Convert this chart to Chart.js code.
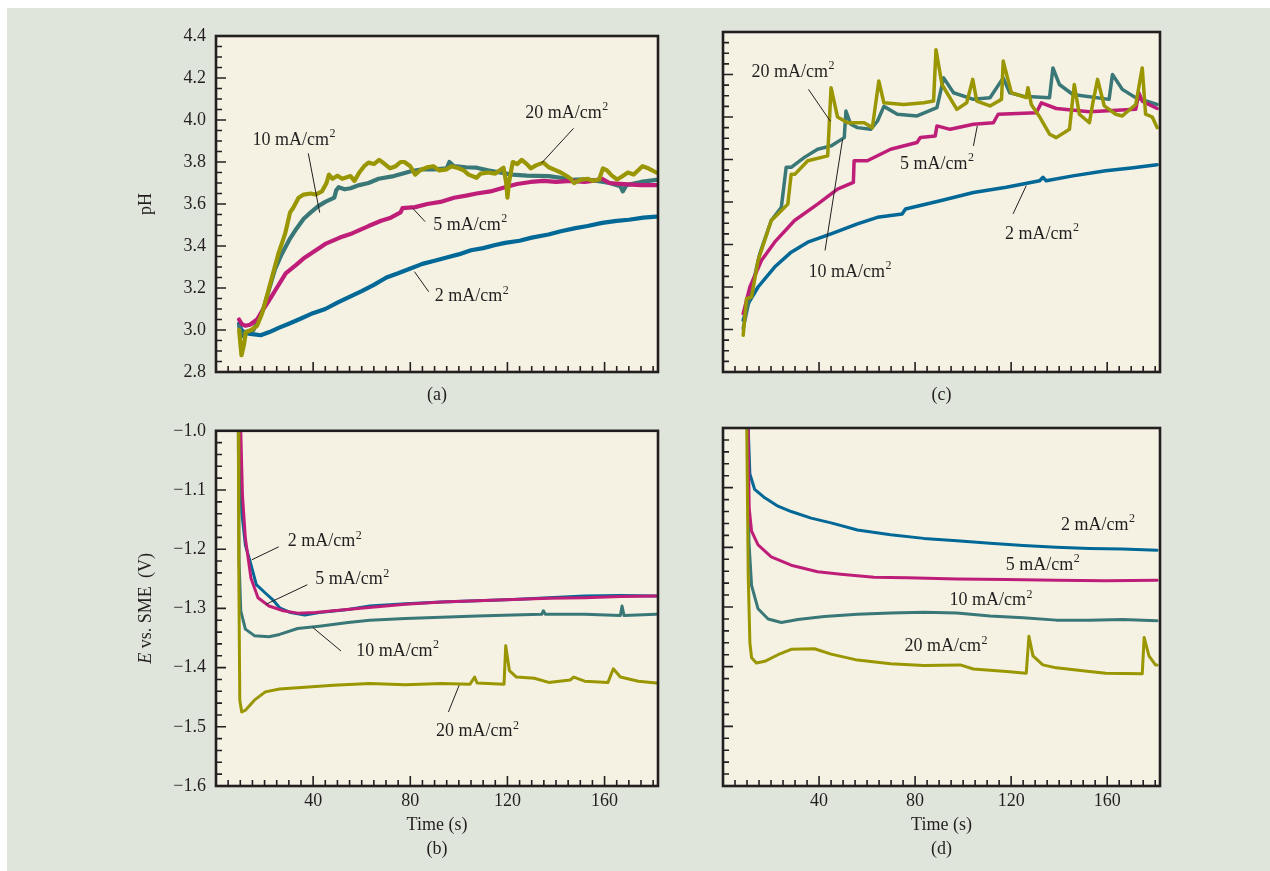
<!DOCTYPE html>
<html><head><meta charset="utf-8">
<script src="https://cdn.jsdelivr.net/npm/chart.js@4.4.1/dist/chart.umd.min.js"></script>
<style>
html,body{margin:0;padding:0;background:#fff;width:1270px;height:871px;overflow:hidden;}
#bg{position:absolute;left:7px;top:8px;width:1263px;height:863px;background:#e0e5dc;}
canvas{position:absolute;}
</style></head><body>
<div id="bg"></div>
<canvas id="ca" width="690" height="410" style="left:0;top:0"></canvas>
<canvas id="cb" width="690" height="461" style="left:0;top:410px"></canvas>
<canvas id="cc" width="580" height="410" style="left:690px;top:0"></canvas>
<canvas id="cd" width="580" height="461" style="left:690px;top:410px"></canvas>
<script>
// ---------- tick values / labels ----------
const timeTickValues = [40, 80, 120, 160];
const timeTickLabels = ['40', '80', '120', '160'];
const phTickValues = [2.8, 3.0, 3.2, 3.4, 3.6, 3.8, 4.0, 4.2, 4.4];
const phTickLabels = ['2.8', '3.0', '3.2', '3.4', '3.6', '3.8', '4.0', '4.2', '4.4'];
const eTickValues = [-1.6, -1.5, -1.4, -1.3, -1.2, -1.1, -1.0];
const eTickLabels = ['\u22121.6', '\u22121.5', '\u22121.4', '\u22121.3', '\u22121.2', '\u22121.1', '\u22121.0'];
const seriesLabels = ['2 mA/cm\u00b2', '5 mA/cm\u00b2', '10 mA/cm\u00b2', '20 mA/cm\u00b2'];

// ---------- (a) pH, panel a : [time s, pH] ----------
const phA_2 = [[9.5,3.03],[10.5,3.0],[12,2.985],[15,2.98],[18.4,2.975],[22,2.99],[25.8,3.01],[30,3.03],[35,3.055],[39.9,3.08],[45,3.1],[50,3.13],[55.4,3.16],[60,3.185],[65,3.215],[70.2,3.25],[75,3.27],[80.6,3.295],[85,3.315],[90,3.33],[95,3.345],[99.9,3.36],[105,3.38],[110,3.39],[115,3.405],[119,3.415],[125,3.425],[130,3.44],[136.9,3.455],[142,3.47],[148,3.485],[153,3.495],[159,3.51],[165,3.52],[170,3.525],[176,3.535],[181.3,3.54]];
const phA_5 = [[9.5,3.05],[10.5,3.03],[12,3.02],[14,3.025],[16.9,3.05],[19,3.09],[21.3,3.13],[25,3.2],[28.7,3.27],[33,3.31],[36,3.34],[39.9,3.37],[45,3.41],[51,3.44],[56,3.46],[62.8,3.495],[68,3.52],[72,3.535],[76,3.56],[76.8,3.58],[82,3.585],[87,3.6],[92.4,3.61],[98,3.63],[103,3.64],[107.3,3.65],[113,3.66],[119,3.68],[124,3.695],[129.5,3.705],[135,3.71],[140,3.705],[146,3.71],[151.7,3.705],[155,3.71],[159,3.72],[162,3.7],[168,3.695],[175,3.69],[181.3,3.69]];
const phA_10 = [[9.5,3.02],[10.5,2.97],[12,2.99],[15.4,3.0],[18,3.06],[19.8,3.11],[22,3.2],[24.3,3.29],[27,3.36],[30.2,3.43],[33,3.48],[36.1,3.53],[39,3.56],[42.1,3.59],[45,3.61],[48.7,3.63],[49.5,3.665],[50.5,3.68],[53,3.67],[55.4,3.675],[59,3.69],[62.8,3.7],[67,3.72],[73.2,3.733],[77,3.745],[80.6,3.757],[85,3.765],[90,3.765],[95,3.77],[96.1,3.8],[98,3.78],[103,3.775],[107.3,3.773],[112,3.76],[117,3.75],[122,3.74],[128,3.735],[136.9,3.733],[142,3.725],[146,3.715],[151.7,3.717],[157,3.71],[162,3.7],[166.5,3.685],[167.5,3.66],[169,3.69],[175,3.705],[181.3,3.715]];
const phA_20 = [[9.5,3.0],[10.5,2.88],[11.5,2.93],[12.3,2.99],[14.5,3.0],[16.9,3.02],[19,3.08],[21.3,3.176],[23.5,3.27],[25.8,3.367],[28.5,3.46],[30.5,3.56],[31.7,3.58],[34,3.63],[36.1,3.645],[39,3.65],[41,3.645],[43.6,3.66],[45.5,3.7],[46.5,3.74],[48,3.72],[50,3.735],[52,3.72],[55.4,3.733],[57,3.71],[59,3.75],[61,3.78],[62.8,3.797],[65,3.79],[67.2,3.81],[69,3.795],[71.7,3.77],[74,3.78],[76,3.8],[77.6,3.8],[80,3.78],[82,3.74],[84,3.76],[87,3.775],[89.5,3.78],[92,3.76],[95,3.765],[97,3.78],[99.9,3.77],[102,3.76],[104,3.74],[107.3,3.725],[109,3.745],[112,3.75],[115,3.745],[118.4,3.773],[119.5,3.7],[120,3.63],[120.6,3.7],[122.2,3.8],[124,3.79],[125.9,3.81],[128,3.79],[129.6,3.77],[132,3.785],[134.8,3.797],[137,3.775],[140,3.76],[142,3.75],[144.4,3.733],[146,3.72],[147.4,3.7],[150,3.715],[153,3.72],[155,3.71],[157.8,3.717],[159.3,3.77],[161,3.76],[163,3.735],[165.2,3.717],[167,3.73],[169.6,3.75],[172,3.74],[175.6,3.78],[178,3.77],[181.3,3.75]];

// ---------- (c) pH, panel c ----------
const phC_2 = [[8.4,3.044],[10.5,3.122],[14.6,3.2],[21.5,3.294],[28.4,3.364],[35.3,3.411],[45,3.45],[56,3.497],[64.3,3.528],[74.6,3.544],[76,3.567],[90.5,3.606],[104.3,3.645],[118,3.669],[131.9,3.7],[133.2,3.716],[134.6,3.7],[145.7,3.723],[159.4,3.747],[170,3.76],[180.8,3.775]];
const phC_5 = [[8.4,3.075],[11.2,3.2],[16,3.325],[21.5,3.411],[29.8,3.513],[39.4,3.59],[47.7,3.661],[54.3,3.692],[54.6,3.794],[60.1,3.794],[69.8,3.848],[80.8,3.88],[82.2,3.903],[88.4,3.911],[89.1,3.958],[94.6,3.942],[104.3,3.966],[112.6,3.973],[114.6,4.013],[130.5,4.02],[132.6,4.067],[138.8,4.04],[152.6,4.025],[171.9,4.036],[173.2,4.114],[174.6,4.075],[180.8,4.04]];
const phC_10 = [[8.4,3.005],[11.2,3.153],[15.3,3.356],[20.1,3.513],[24.3,3.575],[26.3,3.763],[28.4,3.763],[33.9,3.81],[39.4,3.848],[45,3.864],[50.5,3.903],[51.2,4.028],[53.2,3.966],[56,3.95],[61.5,3.942],[64.3,3.98],[67,4.05],[72.6,4.013],[80.8,4.005],[89.1,4.044],[91.9,4.184],[96,4.114],[104.3,4.083],[111.2,4.091],[116.7,4.184],[119.4,4.114],[125,4.098],[136,4.091],[137.4,4.231],[140.1,4.153],[145.7,4.106],[160.8,4.083],[162.2,4.2],[166.3,4.13],[171.9,4.091],[180.8,4.059]];
const phC_20 = [[8.4,2.973],[9.8,3.145],[11.9,3.153],[14.6,3.325],[20.1,3.513],[22.9,3.544],[27,3.59],[28.4,3.731],[30,3.731],[35.3,3.794],[43.6,3.817],[45,4.138],[47.7,4.0],[51.9,3.973],[58.8,3.973],[62.2,3.95],[64.9,4.169],[67,4.067],[75.3,4.059],[83.6,4.067],[87.7,4.075],[88.7,4.317],[91.2,4.153],[97.4,4.036],[101.5,4.067],[104,4.177],[105.7,4.075],[111.2,4.052],[116,4.083],[116.7,4.263],[120.1,4.114],[126.3,4.091],[127,4.138],[128.4,4.059],[131.9,4.0],[136,3.919],[138.8,3.903],[144.3,3.942],[146.3,4.153],[148.4,4.013],[152.6,3.973],[153.9,4.059],[156,4.177],[158.8,4.052],[163.6,4.013],[166.3,4.005],[171.9,4.059],[174.6,4.231],[176,4.013],[178.8,4.0],[180.8,3.95]];

// ---------- (b) potential, panel b : [time s, E V] ----------
const eB_2 = [[9.8,-1.0],[10.6,-1.137],[12.1,-1.193],[14.4,-1.226],[16.6,-1.26],[20.3,-1.274],[23.3,-1.285],[26.2,-1.299],[30.7,-1.307],[36.6,-1.311],[42.5,-1.307],[54.4,-1.302],[63.3,-1.296],[78,-1.292],[92.8,-1.289],[107.5,-1.287],[122.3,-1.285],[137,-1.282],[151.8,-1.279],[166.5,-1.278],[181.3,-1.279]];
const eB_5 = [[10.2,-1.0],[10.9,-1.109],[12.1,-1.182],[14.4,-1.249],[17.3,-1.282],[21.8,-1.296],[27.7,-1.304],[33.6,-1.308],[41,-1.307],[48.4,-1.304],[61.8,-1.299],[78,-1.293],[92.8,-1.289],[107.5,-1.287],[122.3,-1.285],[137,-1.283],[151.8,-1.282],[166.5,-1.28],[181.3,-1.279]];
const eB_10 = [[9.2,-1.0],[9.5,-1.221],[10.2,-1.304],[12.1,-1.335],[15.8,-1.346],[21.8,-1.348],[26.2,-1.344],[33.6,-1.334],[42.5,-1.33],[54.4,-1.324],[63.3,-1.32],[78,-1.317],[92.8,-1.315],[107.5,-1.313],[122.3,-1.311],[134.1,-1.31],[134.8,-1.304],[135.6,-1.31],[151.8,-1.31],[166.5,-1.312],[167.2,-1.296],[168,-1.312],[181.3,-1.31]];
const eB_20 = [[9.2,-1.0],[9.4,-1.249],[9.8,-1.455],[10.6,-1.475],[12.1,-1.472],[15.8,-1.455],[20.3,-1.441],[26.2,-1.436],[33.6,-1.434],[48.4,-1.43],[63.3,-1.427],[78,-1.429],[92.8,-1.427],[104.6,-1.428],[106.5,-1.416],[107.5,-1.426],[118.6,-1.428],[119.3,-1.363],[120.8,-1.405],[123.7,-1.416],[131.1,-1.418],[137,-1.425],[145.8,-1.421],[147.3,-1.416],[151.8,-1.423],[161.4,-1.425],[163.6,-1.402],[166.5,-1.416],[173.9,-1.423],[181.3,-1.426]];

// ---------- (d) potential, panel d ----------
const eD_2 = [[10.5,-1.0],[11.2,-1.077],[13.2,-1.103],[17.4,-1.117],[22.9,-1.131],[28.4,-1.14],[36.7,-1.151],[45,-1.159],[56,-1.171],[69.8,-1.179],[83.6,-1.185],[97.4,-1.189],[111.2,-1.193],[125,-1.197],[138.8,-1.2],[152.6,-1.202],[166.3,-1.203],[180.8,-1.205]];
const eD_5 = [[10.5,-1.0],[10.9,-1.134],[11.9,-1.173],[14.6,-1.196],[20.1,-1.216],[28.4,-1.23],[39.4,-1.241],[49.1,-1.245],[62.9,-1.25],[76.7,-1.251],[97.4,-1.253],[118.1,-1.254],[138.8,-1.255],[159.4,-1.256],[180.8,-1.255]];
const eD_10 = [[10.2,-1.0],[10.8,-1.19],[11.9,-1.264],[14.6,-1.303],[18.8,-1.32],[24.3,-1.326],[31.2,-1.321],[42.2,-1.316],[56,-1.312],[69.8,-1.31],[83.6,-1.309],[97.4,-1.31],[111.2,-1.315],[125,-1.318],[138.8,-1.322],[152.6,-1.322],[166.3,-1.321],[180.8,-1.323]];
const eD_20 = [[9.9,-1.0],[10.5,-1.247],[11.2,-1.36],[11.9,-1.385],[13.9,-1.394],[17.4,-1.391],[22.9,-1.38],[28.4,-1.371],[38.1,-1.37],[45,-1.379],[56,-1.389],[69.8,-1.395],[83.6,-1.398],[98.8,-1.397],[104.3,-1.404],[118.1,-1.408],[126.3,-1.411],[127.4,-1.349],[129.1,-1.382],[133.2,-1.397],[138.8,-1.402],[152.6,-1.408],[159.4,-1.411],[174.6,-1.412],[175.4,-1.351],[177.4,-1.382],[180.1,-1.397],[180.8,-1.397]];

// ---------- styling / layout ----------
const COLORS = ['#006896', '#be1e78', '#3a7878', '#9a9600'];
const ORDER = [3, 1, 2, 0];
const INK = '#231f20';
const SERIF = '"Liberation Serif", "Times New Roman", serif';

const panels = {
  ca: { left: 0, top: 0, w: 690, h: 410, area: {l: 216, t: 36, r: 658, b: 372}, lw: 4.2,
        data: [phA_2, phA_5, phA_10, phA_20], yKind: 'ph', yLabels: true, xLabels: false,
        yTitle: 'pH', tag: '(a)', tagDy: 23,
        notes: [
          {t: 'N', main: '10 mA/cm', x: 15.0, y: 3.905, line: [38.0, 3.841, 42.7, 3.559]},
          {main: '20 mA/cm', x: 127.3, y: 4.033, line: [147.2, 3.96, 134.0, 3.794]},
          {main: '5 mA/cm', x: 89.5, y: 3.5, line: [86.1, 3.516, 81.0, 3.58]},
          {main: '2 mA/cm', x: 90.1, y: 3.159, line: [87.6, 3.182, 81.7, 3.278]}
        ]},
  cb: { left: 0, top: 410, w: 690, h: 461, area: {l: 216, t: 428, r: 658, b: 786}, lw: 3,
        data: [eB_2, eB_5, eB_10, eB_20], yKind: 'e', yLabels: true, xLabels: true,
        yTitle: 'E', tag: '(b)', tagDy: 63, xTitle: true,
        notes: [
          {main: '2 mA/cm', x: 29.5, y: -1.187, line: [25.8, -1.196, 14.7, -1.218]},
          {main: '5 mA/cm', x: 40.9, y: -1.251, line: [37.6, -1.26, 20.6, -1.293]},
          {main: '10 mA/cm', x: 57.7, y: -1.372, line: [51.5, -1.372, 39.8, -1.332]},
          {main: '20 mA/cm', x: 90.6, y: -1.508, line: [95.7, -1.475, 100.1, -1.43]}
        ]},
  cc: { left: 690, top: 0, w: 580, h: 410, area: {l: 723, t: 32, r: 1160, b: 372}, lw: 3.5,
        data: [phC_2, phC_5, phC_10, phC_20], yKind: 'ph', yLabels: false, xLabels: false,
        tag: '(c)', tagDy: 23,
        notes: [
          {main: '20 mA/cm', x: 11.9, y: 4.2125, line: [35.6, 4.13, 44.7, 3.98]},
          {main: '10 mA/cm', x: 35.6, y: 3.27, line: [42.5, 3.372, 49.8, 3.895]},
          {main: '5 mA/cm', x: 73.7, y: 3.778, line: [104.3, 3.864, 105.9, 3.958]},
          {main: '2 mA/cm', x: 117.4, y: 3.45, line: [120.8, 3.544, 126.3, 3.677]}
        ]},
  cd: { left: 690, top: 410, w: 580, h: 461, area: {l: 723, t: 428, r: 1160, b: 786}, lw: 3,
        data: [eD_2, eD_5, eD_10, eD_20], yKind: 'e', yLabels: false, xLabels: true,
        tag: '(d)', tagDy: 63, xTitle: true,
        notes: [
          {main: '2 mA/cm', x: 140.8, y: -1.163},
          {main: '5 mA/cm', x: 117.8, y: -1.23},
          {main: '10 mA/cm', x: 94.3, y: -1.289},
          {main: '20 mA/cm', x: 75.6, y: -1.366}
        ]}
};

const decoPlugin = {
  id: 'deco',
  beforeDraw(chart) {
    const {ctx, chartArea: a} = chart;
    ctx.save();
    ctx.fillStyle = '#f5f2e4';
    ctx.fillRect(a.left, a.top, a.right - a.left, a.bottom - a.top);
    ctx.restore();
  },
  afterDatasetsDraw(chart) {
    const p = panels[chart.canvas.id];
    const {ctx, chartArea: a, scales: {x, y}} = chart;
    ctx.save();
    // ticks (inward)
    ctx.strokeStyle = INK; ctx.lineWidth = 1.6; ctx.beginPath();
    for (let k = 1; k * 5 < 182; k++) {
      const v = k * 5, major = v % 40 === 0;
      const px = x.getPixelForValue(v);
      ctx.moveTo(px, a.bottom); ctx.lineTo(px, a.bottom - (major ? 10 : 6));
    }
    const ymin = y.min, step = p.yKind === 'ph' ? 0.05 : 0.02, every = p.yKind === 'ph' ? 4 : 5;
    const n = Math.round((y.max - y.min) / step);
    for (let k = 1; k < n; k++) {
      const py = y.getPixelForValue(ymin + k * step);
      ctx.moveTo(a.left, py); ctx.lineTo(a.left + (k % every === 0 ? 10 : 6), py);
    }
    ctx.stroke();
    // frame
    ctx.lineWidth = 2.6;
    ctx.strokeRect(a.left, a.top, a.right - a.left, a.bottom - a.top);
    // annotations
    ctx.fillStyle = INK; ctx.textBaseline = 'middle'; ctx.textAlign = 'left';
    p.notes.forEach(nt => {
      const tx = x.getPixelForValue(nt.x), ty = y.getPixelForValue(nt.y);
      ctx.font = '18px ' + SERIF;
      ctx.fillText(nt.main, tx, ty);
      const w = ctx.measureText(nt.main).width;
      ctx.font = '12px ' + SERIF;
      ctx.fillText('2', tx + w + 0.5, ty - 6);
      if (nt.line) {
        ctx.lineWidth = 1; ctx.beginPath();
        ctx.moveTo(x.getPixelForValue(nt.line[0]), y.getPixelForValue(nt.line[1]));
        ctx.lineTo(x.getPixelForValue(nt.line[2]), y.getPixelForValue(nt.line[3]));
        ctx.stroke();
      }
    });
    // titles
    const cx = (a.left + a.right) / 2, cy = (a.top + a.bottom) / 2;
    ctx.textAlign = 'center';
    ctx.font = '18px ' + SERIF;
    ctx.fillText(p.tag, cx, a.bottom + p.tagDy);
    if (p.xTitle) ctx.fillText('Time (s)', cx, a.bottom + 39);
    if (p.yTitle) {
      ctx.save();
      ctx.translate(a.left - 70, cy);
      ctx.rotate(-Math.PI / 2);
      if (p.yTitle === 'pH') {
        ctx.fillText('pH', 0, 0);
      } else {
        ctx.font = 'italic 18px ' + SERIF;
        const wE = ctx.measureText('E').width;
        ctx.font = '18px ' + SERIF;
        const rest = ' vs. SME \u2009(V)';
        const wR = ctx.measureText(rest).width;
        const x0 = -(wE + wR) / 2;
        ctx.textAlign = 'left';
        ctx.font = 'italic 18px ' + SERIF;
        ctx.fillText('E', x0, 0);
        ctx.font = '18px ' + SERIF;
        ctx.fillText(rest, x0 + wE, 0);
      }
      ctx.restore();
    }
    ctx.restore();
  }
};

Object.keys(panels).forEach(id => {
  const p = panels[id], a = p.area;
  const isPh = p.yKind === 'ph';
  const yVals = isPh ? phTickValues : eTickValues;
  const yLabs = isPh ? phTickLabels : eTickLabels;
  new Chart(document.getElementById(id), {
    type: 'line',
    data: {
      datasets: p.data.map((arr, i) => ({
        label: seriesLabels[i],
        data: arr.map(([t, v]) => ({x: t, y: v})),
        borderColor: COLORS[i], borderWidth: p.lw, pointRadius: 0, tension: 0,
        fill: false, clip: 0, order: ORDER[i], borderJoinStyle: 'round', borderCapStyle: 'round'
      }))
    },
    options: {
      responsive: false, animation: false, events: [],
      layout: {padding: {left: 0, top: a.t - p.top, right: p.left + p.w - a.r, bottom: 0}},
      plugins: {legend: {display: false}, tooltip: {enabled: false}},
      scales: {
        x: {
          type: 'linear', min: 0, max: 182,
          grid: {display: false, drawTicks: false}, border: {display: false},
          ticks: {display: p.xLabels, autoSkip: false, maxRotation: 0, padding: 4, color: INK,
                  font: {family: SERIF, size: 18}, callback: (v, i) => timeTickLabels[i]},
          afterBuildTicks: s => { s.ticks = timeTickValues.map(v => ({value: v})); },
          afterFit: s => { s.height = p.top + p.h - a.b; }
        },
        y: {
          type: 'linear', min: isPh ? 2.8 : -1.6, max: isPh ? 4.4 : -1.0,
          grid: {display: false, drawTicks: false}, border: {display: false},
          ticks: {display: p.yLabels, autoSkip: false, padding: 10, color: INK,
                  font: {family: SERIF, size: 18}, callback: (v, i) => yLabs[i]},
          afterBuildTicks: s => { s.ticks = yVals.map(v => ({value: v})); },
          afterFit: s => { s.width = a.l - p.left; }
        }
      }
    },
    plugins: [decoPlugin]
  });
});
</script>
</body></html>
